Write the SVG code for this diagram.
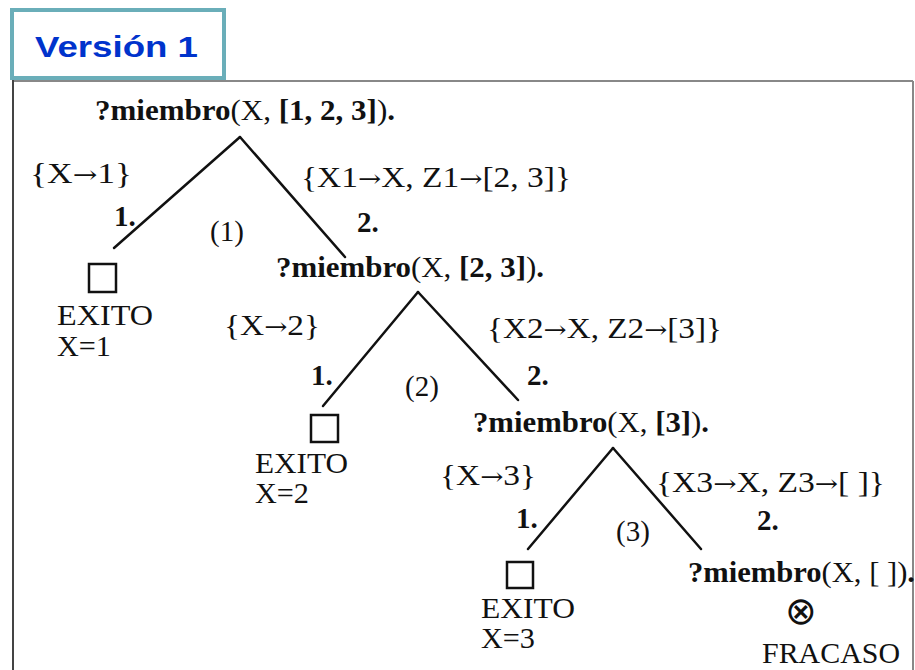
<svg xmlns="http://www.w3.org/2000/svg" width="915" height="670" viewBox="0 0 915 670">
<style>
  .t { font-family: "Liberation Serif", "Times New Roman", serif; font-size: 29px; fill: #111; }
  .b { font-weight: bold; }
  .a { font-family: "DejaVu Serif", serif; font-size: 24px; }
  .edge { stroke: #111; stroke-width: 2.5; fill: none; stroke-linecap: round; }
  .sq { fill: #fff; stroke: #111; stroke-width: 2.5; }
</style>
<rect x="0" y="0" width="915" height="670" fill="#fff"/>
<g id="frame">
  <line x1="12" y1="81" x2="913" y2="81" stroke="#888" stroke-width="2"/>
  <line x1="913" y1="81" x2="913" y2="670" stroke="#888" stroke-width="2"/>
  <line x1="13" y1="80" x2="13" y2="670" stroke="#444" stroke-width="2"/>
</g>
<g id="title">
  <rect x="12" y="10" width="212" height="68" fill="#fff" stroke="#6aaeb9" stroke-width="4"/>
  <text x="35" y="57" font-family="'Liberation Sans', Arial, sans-serif" font-size="30" font-weight="bold" fill="#0033cc" textLength="163" lengthAdjust="spacingAndGlyphs">Versión 1</text>
</g>
<g id="connectors">
  <line class="edge" x1="240" y1="137" x2="114" y2="248"/>
  <line class="edge" x1="240" y1="137" x2="345" y2="257"/>
  <line class="edge" x1="418" y1="292" x2="323" y2="406"/>
  <line class="edge" x1="418" y1="292" x2="518" y2="400"/>
  <line class="edge" x1="613" y1="448" x2="528" y2="549"/>
  <line class="edge" x1="613" y1="448" x2="701" y2="549"/>
</g>
<g id="n1">
  <text class="t" x="95" y="120" textLength="300" lengthAdjust="spacingAndGlyphs"><tspan class="b">?miembro</tspan>(X, <tspan class="b">[1, 2, 3]</tspan>)<tspan class="b">.</tspan></text>
</g>
<g id="n2">
  <text class="t" x="276" y="277" textLength="268" lengthAdjust="spacingAndGlyphs"><tspan class="b">?miembro</tspan>(X, <tspan class="b">[2, 3]</tspan>)<tspan class="b">.</tspan></text>
</g>
<g id="n3">
  <text class="t" x="473" y="432" textLength="236" lengthAdjust="spacingAndGlyphs"><tspan class="b">?miembro</tspan>(X, <tspan class="b">[3]</tspan>)<tspan class="b">.</tspan></text>
</g>
<g id="n4">
  <text class="t" x="688" y="582" textLength="227" lengthAdjust="spacingAndGlyphs"><tspan class="b">?miembro</tspan>(X, [ ])<tspan class="b">.</tspan></text>
  <text x="801" y="624" text-anchor="middle" font-family="'DejaVu Sans', sans-serif" font-size="38" fill="#111">⊗</text>
  <text class="t" x="762" y="663" textLength="138" lengthAdjust="spacingAndGlyphs">FRACASO</text>
</g>
<g id="s1">
  <rect class="sq" x="89" y="264" width="27" height="28"/>
  <text class="t" x="57" y="325" textLength="96" lengthAdjust="spacingAndGlyphs">EXITO</text>
  <text class="t" x="57" y="356" textLength="54" lengthAdjust="spacingAndGlyphs">X=1</text>
</g>
<g id="s2">
  <rect class="sq" x="311" y="415" width="27" height="27"/>
  <text class="t" x="255" y="473" textLength="93" lengthAdjust="spacingAndGlyphs">EXITO</text>
  <text class="t" x="255" y="503" textLength="54" lengthAdjust="spacingAndGlyphs">X=2</text>
</g>
<g id="s3">
  <rect class="sq" x="507" y="562" width="26" height="26"/>
  <text class="t" x="481" y="618" textLength="94" lengthAdjust="spacingAndGlyphs">EXITO</text>
  <text class="t" x="481" y="648" textLength="54" lengthAdjust="spacingAndGlyphs">X=3</text>
</g>
<g id="labels">
  <text class="t" x="30" y="183" textLength="102" lengthAdjust="spacingAndGlyphs">{X<tspan class="a">→</tspan>1}</text>
  <text class="t" x="301" y="187" textLength="270" lengthAdjust="spacingAndGlyphs">{X1<tspan class="a">→</tspan>X, Z1<tspan class="a">→</tspan>[2, 3]}</text>
  <text class="t b" x="114" y="226">1.</text>
  <text class="t" x="210" y="241">(1)</text>
  <text class="t b" x="357" y="232">2.</text>
  <text class="t" x="224" y="335" textLength="96" lengthAdjust="spacingAndGlyphs">{X<tspan class="a">→</tspan>2}</text>
  <text class="t" x="487" y="338" textLength="235" lengthAdjust="spacingAndGlyphs">{X2<tspan class="a">→</tspan>X, Z2<tspan class="a">→</tspan>[3]}</text>
  <text class="t b" x="311" y="385">1.</text>
  <text class="t" x="405" y="396">(2)</text>
  <text class="t b" x="527" y="385">2.</text>
  <text class="t" x="440" y="485" textLength="96" lengthAdjust="spacingAndGlyphs">{X<tspan class="a">→</tspan>3}</text>
  <text class="t" x="656" y="492" textLength="229" lengthAdjust="spacingAndGlyphs">{X3<tspan class="a">→</tspan>X, Z3<tspan class="a">→</tspan>[ ]}</text>
  <text class="t b" x="516" y="528">1.</text>
  <text class="t" x="616" y="541">(3)</text>
  <text class="t b" x="757" y="530">2.</text>
</g>
</svg>
